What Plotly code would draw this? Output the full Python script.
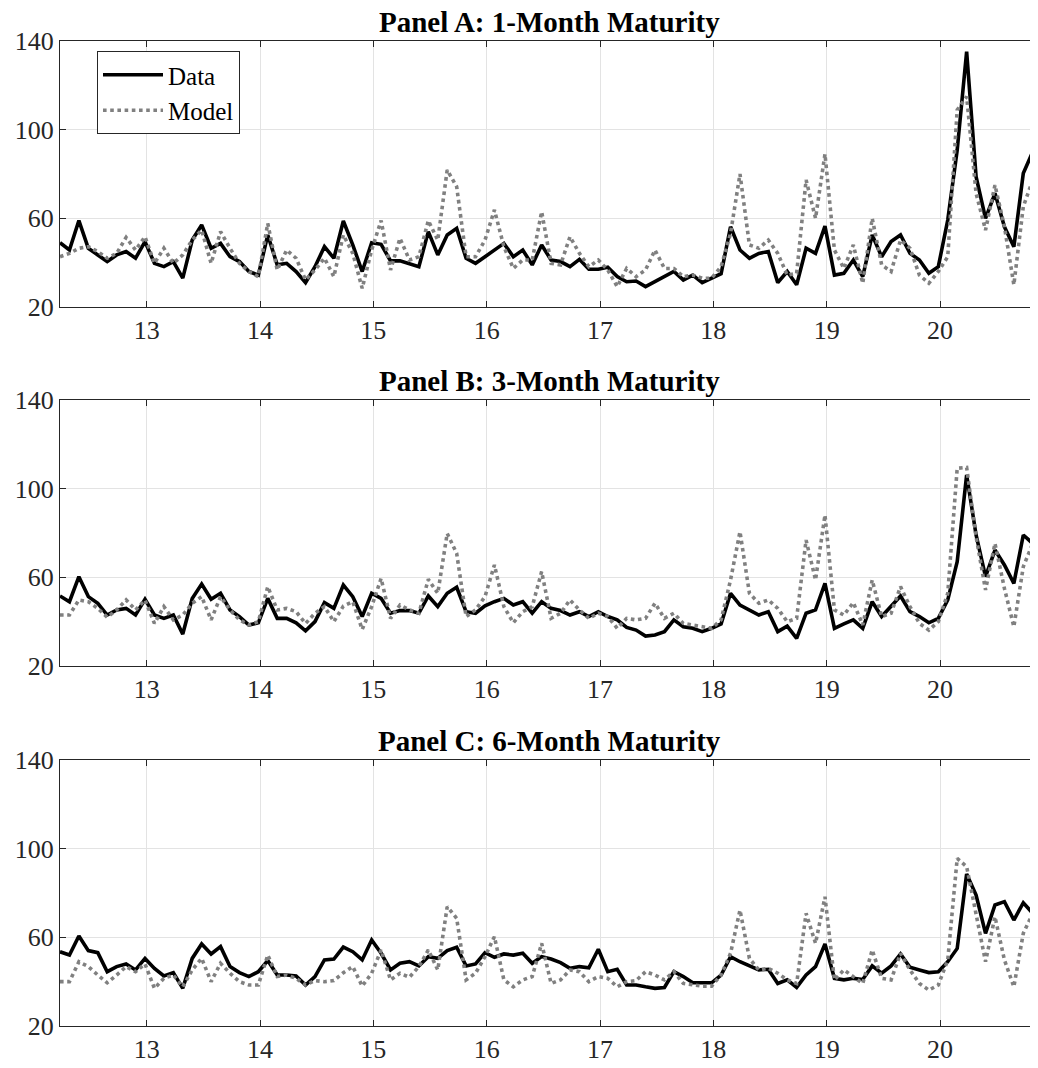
import plotly.graph_objects as go

# ---- data (monthly observations, first one at 12.235 in "yy" years) ----
x_start = 12.235
n_obs = 105
x_vals = [x_start + i / 12 for i in range(n_obs)]

data_1m = [49, 45.7, 59, 46.5, 43.5, 40.5, 43.5, 45, 42, 49.5, 39.7, 38.2, 40.5, 33, 50.2, 57, 46.5, 48.7, 42.7, 40.5,
           36, 34.4, 52.5, 39, 39.7, 36, 31, 38.2, 47.2, 42, 58.8, 48, 36, 49, 48.3, 40.8, 40.8, 39.7, 38.2, 54,
           43.5, 52.5, 55.5, 42, 39.7, 42.7, 45.7, 48.7, 42.7, 45.7, 39, 48, 41.2, 40.5, 38.2, 41.5, 37, 37, 37.9, 33.7,
           31.4, 31.7, 29.2, 31.4, 33.7, 36, 32.2, 34.4, 31, 33, 35, 56.2, 45.7, 42, 44.2, 45, 31, 36, 30, 46.5,
           44.2, 56.5, 34.4, 35.2, 41.2, 33.7, 52.5, 42.7, 49.5, 52.5, 44.2, 41.2, 35.2, 38.2, 59.2, 90.8, 135.2, 78.8, 60, 71.3,
           56.2, 47.2, 80.3, 90, 68]
model_1m = [42.7, 44.2, 46.5, 47.2, 45, 42, 44.2, 51.4, 45.7, 51.7, 39.7, 46.5, 39.7, 43.5, 50.2, 54.7, 39.7, 54, 46.5, 39.7,
            36, 33.7, 57.7, 36.7, 45.7, 42, 32.2, 36.7, 42, 33.7, 52.5, 44.2, 28.4, 45.7, 59, 36.7, 51, 41.2, 42.7, 59,
            50.2, 81.8, 74.3, 42.7, 42.7, 50.2, 63.8, 47.2, 37.4, 41.2, 41.2, 63, 39.7, 39, 51.7, 44.2, 38.2, 41.2, 36.7, 29.2,
            37.4, 33.7, 36.7, 45.7, 37.4, 37.4, 33.7, 34.4, 33, 33, 38.2, 53.2, 80, 48, 46.5, 50.2, 44.2, 34.4, 35.2, 77.3,
            60, 89, 45.7, 37.4, 48, 30.7, 60, 39, 36, 50.2, 46.5, 34.4, 30.7, 36, 42.7, 108.9, 114.9, 71.3, 54.7, 75,
            56.2, 30, 65.3, 77.3, 60]

data_3m = [51.6, 49, 60.3, 51.3, 48.3, 43, 45.3, 46, 43, 50.1, 43, 41.5, 43, 34.4, 50.5, 57, 50.1, 52.8, 45.3, 42.3,
           38.5, 39.5, 50.5, 41.5, 41.5, 39.5, 35.9, 40, 48.6, 46, 56.5, 51.3, 42.3, 52.8, 50.5, 43.8, 45, 45, 43.8, 51.6,
           46.8, 52.8, 55.5, 44.5, 43.8, 47.1, 49, 50.5, 47.5, 49, 43.8, 49, 46, 45, 43, 44.5, 42.3, 44.5, 42.3, 40.8,
           37.4, 36.2, 33.5, 34, 35.5, 40.8, 37.7, 37, 35.5, 37, 39, 52.8, 47.5, 45.3, 43, 44.5, 35.5, 38, 32.5, 43.8,
           45.3, 57.3, 37, 39, 40.8, 37, 49, 42.3, 46.8, 51.6, 44.5, 42.3, 39.5, 41.5, 49.8, 67.1, 106.2, 79.1, 60.3, 72.3,
           65.6, 57.3, 79.1, 75.3, 45]
model_3m = [43, 43, 49.8, 49, 46, 42, 45.3, 49.8, 45.3, 49.8, 39.2, 46.8, 40.8, 43, 48.3, 51.3, 40.8, 51.3, 45.3, 40.8,
            38.5, 40, 55.8, 45.3, 46, 44.5, 39.2, 43.8, 46.8, 40, 47, 49, 36.5, 46.8, 59.5, 41.5, 47.5, 45.3, 43.8, 59.1,
            52.8, 79.8, 70.8, 42.3, 45.3, 51.3, 65.6, 46.8, 39.5, 44.5, 46.8, 62.6, 41.5, 43.8, 49.8, 45.3, 41.5, 43.8, 42.3, 37,
            41.5, 40.8, 41.5, 48.3, 41.5, 43.8, 39.2, 38.5, 37.7, 37, 40.8, 58.8, 80.6, 52.8, 48.3, 49.8, 46, 40, 41.5, 76.8,
            58.8, 88.1, 45.3, 43, 48.6, 38.5, 58.8, 42.3, 43.8, 55.8, 46.8, 39.2, 36.2, 40, 52.8, 109.2, 109.6, 78.3, 54.3, 75.3,
            55, 37.7, 64.8, 75.3, 65]

data_6m = [53.5, 52, 60.6, 54, 53.1, 44.5, 46.8, 48, 45.3, 50.5, 46, 42.6, 44.1, 37, 50.5, 57, 52.5, 55.8, 46.8, 44.1,
           42.3, 44.5, 49.5, 43, 43, 42.6, 38.5, 42.3, 49.8, 50.2, 55.6, 53.5, 49.8, 58.8, 52.8, 45.3, 48.3, 49, 47.1, 51.3,
           50.5, 54, 55.5, 47.1, 48, 53.1, 51, 52.5, 52, 52.8, 48.3, 51.3, 50.2, 48.6, 46, 46.8, 46.3, 54.6, 44.5, 45.6,
           38.5, 38.5, 37.7, 37, 37.4, 44.5, 42.3, 39.5, 39.5, 39.5, 43, 51.3, 49, 47.1, 45.3, 45.6, 39.2, 40.8, 37.4, 43,
           46.8, 57, 41.5, 40.8, 41.5, 41, 47.1, 43.8, 47.1, 52.5, 46.5, 45.3, 44.1, 44.5, 49, 55, 88.6, 79.1, 61.8, 74.6,
           76.1, 67.8, 75.6, 70.8, 48]
model_6m = [40, 40, 49, 46.8, 43, 39.5, 43, 46.8, 44.5, 48, 37, 41.5, 43, 37.7, 45.3, 50.5, 40, 48.3, 43.8, 40,
            38.5, 38.5, 52, 42.3, 43, 41.5, 38.5, 40.5, 40, 40.5, 44, 46.8, 38, 43.8, 54.3, 40.8, 43.8, 42, 46.8, 54.3,
            45.3, 73.8, 68.6, 40.8, 43.8, 51.3, 60.3, 40.8, 37.7, 40.8, 42.3, 57.3, 39.2, 40.8, 45.3, 44.5, 40, 42.3, 41.5, 37.7,
            40, 40.5, 44.5, 43, 40.8, 44.5, 39.2, 38.5, 38, 38, 43, 52.8, 72.3, 50.5, 45.3, 46, 43.8, 40.8, 39.2, 70.8,
            57.3, 78.3, 40.8, 45.3, 42.3, 39.2, 54.3, 41.5, 40.8, 52.8, 45.3, 39.2, 36.2, 38.5, 49.8, 95.6, 91.9, 70.8, 49, 69.3,
            49.8, 37.7, 61.8, 70.8, 55]

panel_titles = ["Panel A: 1-Month Maturity", "Panel B: 3-Month Maturity", "Panel C: 6-Month Maturity"]
series = [(data_1m, model_1m), (data_3m, model_3m), (data_6m, model_6m)]
x_ticks = [13, 14, 15, 16, 17, 18, 19, 20]
y_ticks = [20, 60, 100, 140]

# ---- layout geometry (page body has an 8px margin, so the figure is shifted) ----
OFF = 8
W, H = 1038 - OFF, 1068 - OFF
left_px, right_px = 60 - OFF, 1038 - OFF
panel_px = [(41 - OFF, 307 - OFF), (400 - OFF, 666 - OFF), (760 - OFF, 1026 - OFF)]  # top, bottom
px_per_year = 113.33
x_range = [x_start, x_start + (right_px - left_px) / px_per_year]

FONT = "Liberation Serif, Times New Roman, serif"
AX = "#262626"

fig = go.Figure()
for k, (d, m) in enumerate(series):
    xa = "x" if k == 0 else f"x{k+1}"
    ya = "y" if k == 0 else f"y{k+1}"
    fig.add_trace(go.Scatter(x=x_vals, y=d, mode="lines", name="Data",
                             line=dict(color="black", width=3.6),
                             xaxis=xa, yaxis=ya, showlegend=(k == 0)))
    fig.add_trace(go.Scatter(x=x_vals, y=m, mode="lines", name="Model",
                             line=dict(color="#808080", width=3.6, dash="dot"),
                             xaxis=xa, yaxis=ya, showlegend=(k == 0)))

layout = dict(width=W, height=H, margin=dict(l=0, r=0, t=0, b=0),
              paper_bgcolor="white", plot_bgcolor="white",
              font=dict(family=FONT, size=26, color=AX))
annotations = []
for k, (top, bot) in enumerate(panel_px):
    sfx = "" if k == 0 else str(k + 1)
    ydom = [1 - bot / H, 1 - top / H]
    layout["xaxis" + sfx] = dict(
        domain=[left_px / W, right_px / W], range=x_range, anchor="y" + sfx,
        tickvals=x_ticks, ticktext=[str(t) for t in x_ticks],
        ticks="inside", ticklen=6, tickcolor=AX, showline=True, linecolor=AX, linewidth=1,
        mirror="ticks", showgrid=True, gridcolor="#e3e3e3", gridwidth=1, zeroline=False,
        tickfont=dict(family=FONT, size=26, color=AX), automargin=False)
    layout["yaxis" + sfx] = dict(
        domain=ydom, range=[20, 140], anchor="x" + sfx,
        tickvals=y_ticks, ticks="inside", ticklen=6, tickcolor=AX, showline=True, linecolor=AX,
        linewidth=1, mirror="ticks", showgrid=True, gridcolor="#e3e3e3", gridwidth=1, zeroline=False,
        tickfont=dict(family=FONT, size=26, color=AX), automargin=False)
    annotations.append(dict(text="<b>" + panel_titles[k] + "</b>", xref="paper", yref="paper",
                            x=(left_px + right_px) / 2 / W, y=1 - (top - 19) / H,
                            xanchor="center", yanchor="middle", showarrow=False,
                            font=dict(family=FONT, size=29, color="black")))
layout["annotations"] = annotations
layout["legend"] = dict(x=(97 - OFF) / W, y=1 - (51 - OFF) / H, xanchor="left", yanchor="top",
                        bgcolor="white", bordercolor=AX, borderwidth=1,
                        font=dict(family=FONT, size=25, color="black"),
                        tracegroupgap=0, itemwidth=60)
fig.update_layout(**layout)
fig.write_html("out.html")
